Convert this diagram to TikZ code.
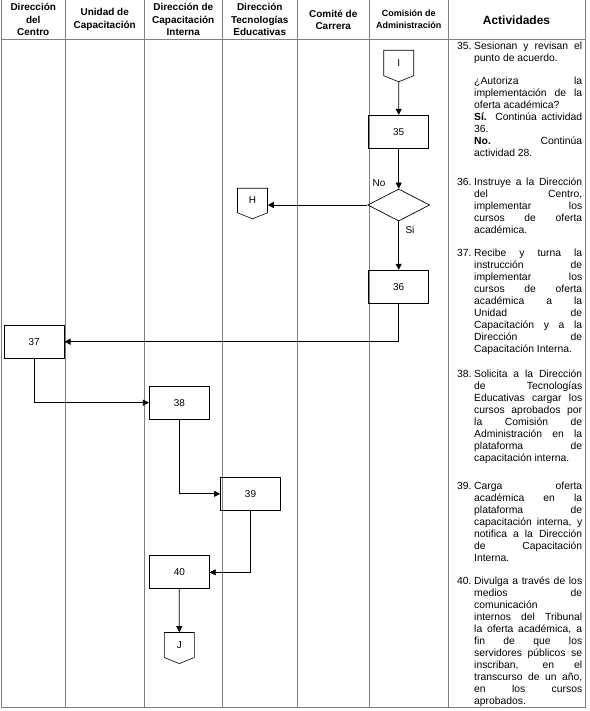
\documentclass[tikz,border=0pt]{standalone}
\usepackage{fontspec}
\setmainfont{Liberation Sans}
\usetikzlibrary{shapes.geometric,shapes.symbols,arrows.meta}
\newcommand{\actfont}{\fontsize{10.4}{12.05}\selectfont\tolerance=10000\relax\hbadness=10000\relax\hyphenpenalty=10000\relax\parindent=0pt\relax}
\newcommand{\numact}[1]{\strut\llap{\hbox to 17bp{#1.\hfil}}}
\tikzset{
  lane/.style={draw=black!50, line width=0.8bp},
  titulo/.style={align=center, font=\bfseries\fontsize{10}{12.2}\selectfont},
  paso/.style={draw, line width=0.7bp, minimum width=60bp, minimum height=33bp, inner sep=0pt, font=\fontsize{10}{12}\selectfont},
  decision/.style={draw, diamond, line width=0.7bp, minimum width=62bp, minimum height=32bp, inner sep=0pt},
  conector/.style={draw, line width=0.6bp, signal, signal to=south, signal from=nowhere, signal pointer angle=136, minimum width=30bp, minimum height=26bp, inner sep=0pt, font=\fontsize{10}{12}\selectfont},
  flujo/.style={-{Triangle[length=6bp,width=6bp]}, line width=0.7bp},
  etiqueta/.style={font=\fontsize{10}{12}\selectfont, inner sep=0pt},
  actividad/.style={anchor=north west, inner sep=0pt, text width=108bp, align=justify, font=\actfont}
}
\begin{document}
\begin{tikzpicture}[x=1bp,y=-1bp]
\useasboundingbox (0,0) rectangle (590,711);

% carriles
\draw[lane] (1,0) -- (1,707.5) -- (585,707.5) -- (585,0);
\foreach \x in {65.5,144,222.5,297,369.5,448}
  \draw[lane] (\x,0) -- (\x,707.5);
\draw[lane] (1,39) -- (585,39);

% encabezados
\node[titulo] (hCentro) at (33.25,19.5) {Dirección\\del\\Centro};
\node[titulo] (hUnidad) at (104.75,19.5) {Unidad de\\Capacitación};
\node[titulo] (hInterna) at (183.25,19.5) {Dirección de\\Capacitación\\Interna};
\node[titulo] (hTecno) at (259.75,19.5) {Dirección\\Tecnologías\\Educativas};
\node[titulo] (hComite) at (333.25,19.5) {Comité de\\Carrera};
\node[titulo, font=\bfseries\fontsize{9}{12}\selectfont] (hComision) at (408.75,19.5) {Comisión de\\Administración};
\node[titulo, font=\bfseries\fontsize{12}{14}\selectfont] (hActiv) at (516.5,20) {Actividades};

% diagrama
\node[conector] (cI) at (398.7,63) {I};
\node[paso] (p35) at (398.7,131.7) {35};
\node[decision] (d35) at (398.7,205) {};
\node[conector] (cH) at (252.5,200.5) {H};
\node[paso] (p36) at (398.7,286.7) {36};
\node[paso] (p37) at (34.2,341.7) {37};
\node[paso] (p38) at (179.3,402.7) {38};
\node[paso] (p39) at (250.5,493.8) {39};
\node[paso] (p40) at (179.3,572.3) {40};
\node[conector] (cJ) at (179.3,645) {J};

\node[etiqueta] (lNo) at (379,183) {No};
\node[etiqueta] (lSi) at (410,230) {Si};

\draw[flujo] (cI) -- (p35);
\draw[flujo] (p35) -- (d35);
\draw[flujo] (d35.west) -- (d35.west -| cH.east);
\draw[flujo] (d35) -- (p36);
\draw[flujo] (p36.south) |- (p37.east);
\draw[flujo] (p37.south) |- (p38.west);
\draw[flujo] (p38.south) |- (p39.west);
\draw[flujo] (p39.south) |- (p40.east);
\draw[flujo] (p40) -- (cJ);

% actividades
\node[actividad] (a35) at (474,40.6) {\numact{35}Sesionan y revisan el\linebreak punto de acuerdo.\par\vspace{11bp}
  ¿Autoriza la\linebreak implementación de la\linebreak oferta académica?\par
  \textbf{Sí.} Continúa actividad\linebreak 36.\par
  \textbf{No.} Continúa\linebreak actividad 28.};
\node[actividad] (a36) at (474,176.6) {\numact{36}Instruye a la Dirección\linebreak del Centro,\linebreak implementar los\linebreak cursos de oferta\linebreak académica.};
\node[actividad] (a37) at (474,247.6) {\numact{37}Recibe y turna la\linebreak instrucción de\linebreak implementar los\linebreak cursos de oferta\linebreak académica a la\linebreak Unidad de\linebreak Capacitación y a la\linebreak Dirección de\linebreak Capacitación Interna.};
\node[actividad] (a38) at (474,368.6) {\numact{38}Solicita a la Dirección\linebreak de Tecnologías\linebreak Educativas cargar los\linebreak cursos aprobados por\linebreak la Comisión de\linebreak Administración en la\linebreak plataforma de\linebreak capacitación interna.};
\node[actividad] (a39) at (474,480.6) {\numact{39}Carga oferta\linebreak académica en la\linebreak plataforma de\linebreak capacitación interna, y\linebreak notifica a la Dirección\linebreak de Capacitación\linebreak Interna.};
\node[actividad] (a40) at (474,575.6) {\numact{40}Divulga a través de los\linebreak medios de\linebreak comunicación\linebreak internos del Tribunal\linebreak la oferta académica, a\linebreak fin de que los\linebreak servidores públicos se\linebreak inscriban, en el\linebreak transcurso de un año,\linebreak en los cursos\linebreak aprobados.};
\end{tikzpicture}
\end{document}
